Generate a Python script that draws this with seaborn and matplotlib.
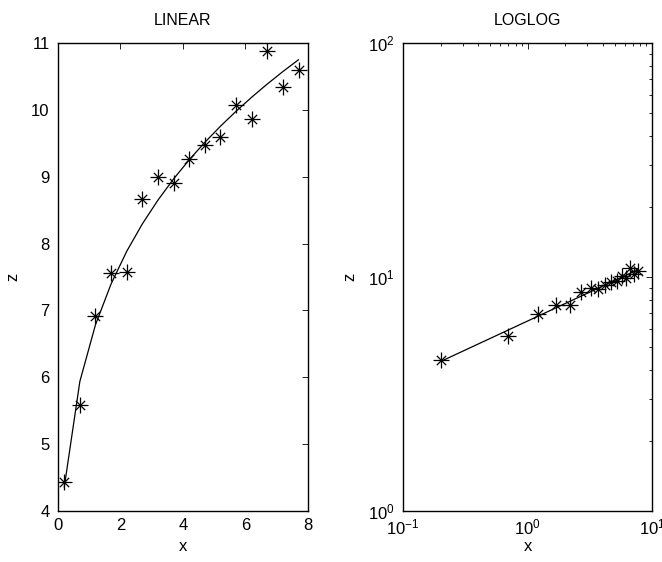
import numpy as np
import pandas as pd
import matplotlib
matplotlib.use("Agg")
import matplotlib.pyplot as plt
import seaborn as sns
from matplotlib.ticker import LogLocator, NullFormatter

# data
x_vals = [0.2, 0.7, 1.2, 1.7, 2.2, 2.7, 3.2, 3.7, 4.2, 4.7, 5.2, 5.7, 6.2, 6.7, 7.2, 7.7]
z_vals = [4.43, 5.58, 6.92, 7.56, 7.58, 8.66, 8.99, 8.91, 9.27, 9.48, 9.59, 10.07,
          9.87, 10.88, 10.34, 10.60]
titles = ["LINEAR", "LOGLOG"]

# power-law fit z = a * x^b (least squares in log space)
b, log_a = np.polyfit(np.log(x_vals), np.log(z_vals), 1)
fit_vals = list(np.exp(log_a) * np.array(x_vals) ** b)

df = pd.DataFrame({"x": x_vals, "z": z_vals, "fit": fit_vals})

sns.set_theme(style="white")
plt.rcParams["font.family"] = ["Liberation Sans", "DejaVu Sans"]
plt.rcParams["mathtext.fontset"] = "custom"
plt.rcParams["mathtext.rm"] = "Liberation Sans"
plt.rcParams["mathtext.it"] = "Liberation Sans"
plt.rcParams["text.color"] = "black"
plt.rcParams["axes.labelcolor"] = "black"

fig = plt.figure(figsize=(6.62, 5.62), dpi=100)
ax1 = fig.add_axes([0.0876, 0.0907, 0.3776, 0.8328])
ax2 = fig.add_axes([0.609, 0.0907, 0.3761, 0.8328])

FS = 12
for ax, title in zip([ax1, ax2], titles):
    sns.lineplot(data=df, x="x", y="fit", ax=ax, color="black", linewidth=0.9,
                 sort=False, estimator=None)
    sns.scatterplot(data=df, x="x", y="z", ax=ax, marker="+", s=120,
                    color="black", linewidth=0.9)
    sns.scatterplot(data=df, x="x", y="z", ax=ax, marker="x", s=45,
                    color="black", linewidth=0.9)
    ax.set_title(title, fontsize=11.5, pad=13)
    ax.set_xlabel("x", fontsize=FS, labelpad=4)
    ax.set_ylabel("z", fontsize=FS, labelpad=8)
    for s in ax.spines.values():
        s.set_color("black")
        s.set_linewidth(1.0)
    ax.tick_params(which="both", direction="in", top=True, right=True,
                   colors="black", labelsize=FS, width=0.6)
    ax.tick_params(which="major", length=4)
    ax.tick_params(which="minor", length=2.5)
    ax.tick_params(axis="x", which="both", pad=5)
    ax.tick_params(axis="y", which="both", pad=6)

ax1.set_xlim(0, 8)
ax1.set_ylim(4, 11)
ax1.set_xticks([0, 2, 4, 6, 8])
ax1.set_yticks([4, 5, 6, 7, 8, 9, 10, 11])

ax2.set_xscale("log")
ax2.set_yscale("log")
ax2.set_xlim(0.1, 10)
ax2.set_ylim(1, 100)
ax2.xaxis.set_major_locator(LogLocator(base=10, numticks=10))
ax2.yaxis.set_major_locator(LogLocator(base=10, numticks=10))
ax2.xaxis.set_minor_locator(LogLocator(base=10, subs=np.arange(2, 10), numticks=20))
ax2.yaxis.set_minor_locator(LogLocator(base=10, subs=np.arange(2, 10), numticks=20))
ax2.xaxis.set_minor_formatter(NullFormatter())
ax2.yaxis.set_minor_formatter(NullFormatter())
ax2.tick_params(axis="x", which="both", pad=5)
ax2.tick_params(axis="y", which="both", pad=6)
ax2.set_xlabel("x", fontsize=FS, labelpad=1)

fig.savefig("out.png", dpi=100, facecolor="white")
